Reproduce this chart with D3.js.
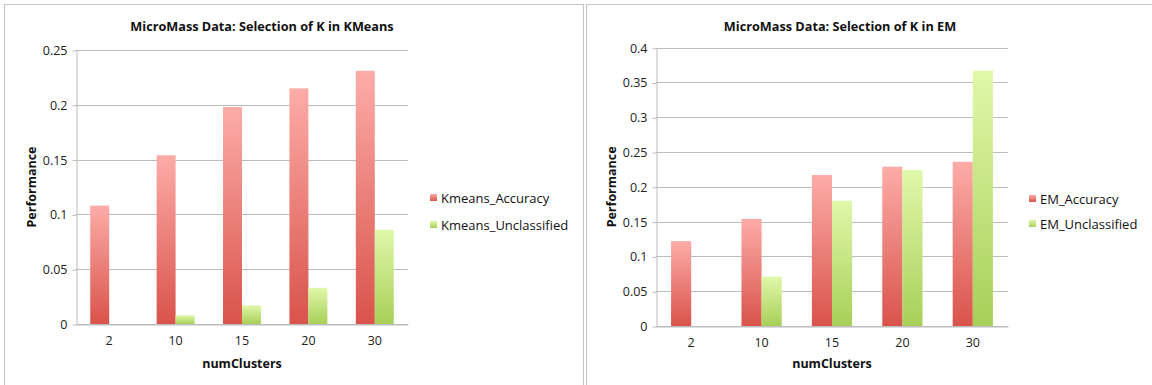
<!DOCTYPE html>
<html>
<head>
<meta charset="utf-8">
<script src="https://cdn.jsdelivr.net/npm/d3@7"></script>
<style>
  body { margin: 0; background: #fff; }
  svg { display: block; font-family: "Open Sans", "Noto Sans", sans-serif; }
</style>
</head>
<body>
<div id="chart"></div>
<script>
// data
const clusters = ["2", "10", "15", "20", "30"];
const kmeansAccuracy = [0.108, 0.154, 0.198, 0.215, 0.231];
const kmeansUnclassified = [0, 0.008, 0.017, 0.033, 0.086];
const emAccuracy = [0.122, 0.154, 0.217, 0.229, 0.236];
const emUnclassified = [0, 0.071, 0.180, 0.224, 0.367];
const kmeansTicks = [0, 0.05, 0.1, 0.15, 0.2, 0.25];
const emTicks = [0, 0.05, 0.1, 0.15, 0.2, 0.25, 0.3, 0.35, 0.4];

const svg = d3.select("#chart")
  .append("svg")
  .attr("width", 1152)
  .attr("height", 385);

// gradients for bars (per bar, top light -> bottom dark)
const defs = svg.append("defs");
function grad(id, top, bottom) {
  const g = defs.append("linearGradient")
    .attr("id", id)
    .attr("x1", 0).attr("y1", 0).attr("x2", 0).attr("y2", 1);
  g.append("stop").attr("offset", "0%").attr("stop-color", top);
  g.append("stop").attr("offset", "100%").attr("stop-color", bottom);
}
grad("redGrad", "#fdaca8", "#d9534b");
grad("greenGrad", "#e0f8aa", "#a8cf58");

function renderPanel(opts) {
  const g = svg.append("g");

  // panel border
  g.append("rect")
    .attr("x", opts.box[0] + 0.5)
    .attr("y", opts.box[1] + 0.5)
    .attr("width", opts.box[2])
    .attr("height", opts.box[3])
    .attr("fill", "none")
    .attr("stroke", "#c4c4c4");

  const x = d3.scaleBand()
    .domain(clusters)
    .range([opts.left, opts.right]);

  const y = d3.scaleLinear()
    .domain([0, d3.max(opts.ticks)])
    .range([opts.bottom, opts.top]);

  // gridlines
  g.append("g")
    .selectAll("line")
    .data(opts.ticks)
    .join("line")
    .attr("x1", opts.left)
    .attr("x2", opts.right)
    .attr("y1", d => Math.round(y(d)) + 0.5)
    .attr("y2", d => Math.round(y(d)) + 0.5)
    .attr("stroke", "#bcbcbc");

  // y axis
  const yAxis = g.append("g")
    .attr("transform", `translate(${opts.left + 0.5},0.5)`)
    .call(d3.axisLeft(y).tickValues(opts.ticks).tickFormat(d => String(+d.toFixed(2))).tickSize(4).tickSizeOuter(0).tickPadding(5));
  yAxis.select(".domain").attr("stroke", "#bcbcbc");
  yAxis.selectAll(".tick line").attr("stroke", "#bcbcbc");
  yAxis.selectAll("text")
    .attr("font-size", 12.5)
    .attr("fill", "#222")
    .attr("font-family", "Open Sans, sans-serif");

  // x axis
  const xAxis = g.append("g")
    .attr("transform", `translate(0,${Math.round(opts.bottom) + 0.5})`)
    .call(d3.axisBottom(x).tickSize(0).tickPadding(12));
  xAxis.select(".domain").attr("stroke", "#bcbcbc");
  xAxis.selectAll("text")
    .attr("font-size", 12.5)
    .attr("fill", "#222")
    .attr("font-family", "Open Sans, sans-serif");

  // bars
  const bw = x.bandwidth() / 3.5;
  const series = [
    { values: opts.acc, fill: "url(#redGrad)", offset: -bw },
    { values: opts.unc, fill: "url(#greenGrad)", offset: 0 }
  ];
  series.forEach(s => {
    g.append("g")
      .selectAll("rect")
      .data(clusters)
      .join("rect")
      .attr("x", (d) => x(d) + x.bandwidth() / 2 + s.offset)
      .attr("width", bw)
      .attr("y", (d, i) => y(s.values[i]))
      .attr("height", (d, i) => opts.bottom - y(s.values[i]))
      .attr("fill", s.fill);
  });

  // title
  g.append("text")
    .attr("x", opts.titleX)
    .attr("y", 31)
    .attr("text-anchor", "middle")
    .attr("font-weight", "bold")
    .attr("font-size", 12.7)
    .attr("fill", "#111")
    .text(opts.title);

  // axis titles
  g.append("text")
    .attr("x", (opts.left + opts.right) / 2)
    .attr("y", 368)
    .attr("text-anchor", "middle")
    .attr("font-weight", "bold")
    .attr("font-size", 12.5)
    .attr("fill", "#111")
    .text("numClusters");

  g.append("text")
    .attr("transform", `translate(${opts.yLabelX},${(opts.top + opts.bottom) / 2}) rotate(-90)`)
    .attr("text-anchor", "middle")
    .attr("font-weight", "bold")
    .attr("font-size", 12.5)
    .attr("fill", "#111")
    .text("Performance");

  // legend
  const leg = g.append("g").attr("transform", `translate(${opts.legend[0]},${opts.legend[1]})`);
  opts.names.forEach((name, i) => {
    leg.append("rect")
      .attr("x", 0)
      .attr("y", i * opts.legendGap - 4)
      .attr("width", 7)
      .attr("height", 7)
      .attr("fill", i === 0 ? "url(#redGrad)" : "url(#greenGrad)");
    leg.append("text")
      .attr("x", 11)
      .attr("y", i * opts.legendGap)
      .attr("dy", "0.35em")
      .attr("font-size", 13)
      .attr("fill", "#111")
      .text(name);
  });
}

renderPanel({
  box: [4, 4, 579, 390],
  left: 76, right: 408, top: 50, bottom: 324,
  ticks: kmeansTicks,
  acc: kmeansAccuracy, unc: kmeansUnclassified,
  title: "MicroMass Data: Selection of K in KMeans",
  titleX: 262,
  yLabelX: 36,
  legend: [430, 198], legendGap: 27,
  names: ["Kmeans_Accuracy", "Kmeans_Unclassified"]
});

renderPanel({
  box: [586, 4, 580, 390],
  left: 656, right: 1008, top: 47.7, bottom: 326,
  ticks: emTicks,
  acc: emAccuracy, unc: emUnclassified,
  title: "MicroMass Data: Selection of K in EM",
  titleX: 840,
  yLabelX: 616,
  legend: [1029, 199], legendGap: 25,
  names: ["EM_Accuracy", "EM_Unclassified"]
});
</script>
</body>
</html>
